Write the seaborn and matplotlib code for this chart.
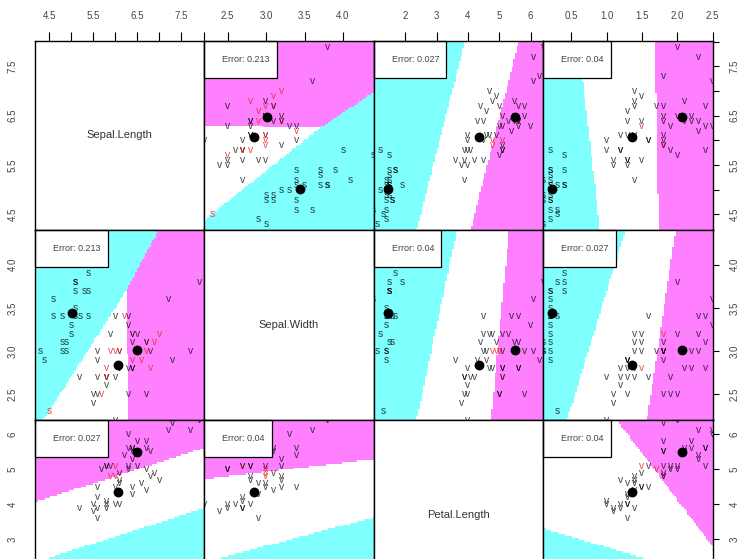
import numpy as np
import matplotlib
matplotlib.use('Agg')
import matplotlib.pyplot as plt
import seaborn as sns
from matplotlib.colors import ListedColormap
from matplotlib.patches import Rectangle

# =========================
# DATA (75 iris rows: 25 setosa, 25 versicolor, 25 virginica)
# =========================
species_names = ['setosa', 'versicolor', 'virginica']
species_count = [25, 25, 25]

sepal_length = [5.1, 4.9, 5.4, 4.6, 4.4, 4.9, 5.4, 4.8, 4.8, 4.3, 5.8, 5.7, 5.1, 5.4, 5.1, 4.6, 5.2, 4.8, 5.2, 5.0, 5.1, 4.5, 5.1, 5.3, 5.0,
                7.0, 6.4, 6.9, 6.6, 5.2, 6.0, 5.6, 6.7, 5.6, 5.8, 5.6, 5.9, 6.1, 6.1, 6.4, 6.8, 6.7, 5.5, 5.8, 6.0, 6.0, 5.5, 6.1, 5.8, 5.6,
                6.3, 5.8, 6.5, 7.3, 6.7, 7.2, 6.5, 6.8, 5.7, 5.8, 6.4, 6.5, 6.1, 6.4, 7.9, 6.4, 6.3, 7.7, 6.3, 6.4, 6.0, 6.7, 6.3, 6.2, 5.9]
sepal_width = [3.5, 3.0, 3.9, 3.4, 2.9, 3.1, 3.7, 3.4, 3.0, 3.0, 4.0, 4.4, 3.8, 3.4, 3.7, 3.6, 3.4, 3.1, 4.1, 3.2, 3.4, 2.3, 3.8, 3.7, 3.3,
               3.2, 3.2, 3.1, 2.9, 2.7, 2.2, 2.9, 3.1, 3.0, 2.7, 2.5, 3.2, 2.8, 2.8, 2.9, 2.8, 3.0, 2.4, 2.7, 2.7, 3.4, 2.5, 3.0, 2.6, 2.7,
               3.3, 2.7, 3.0, 2.9, 2.5, 3.6, 3.2, 3.0, 2.5, 2.8, 3.2, 3.0, 3.0, 2.8, 3.8, 2.8, 2.8, 3.0, 3.4, 3.1, 3.0, 3.1, 2.5, 3.4, 3.0]
petal_length = [1.4, 1.4, 1.7, 1.4, 1.4, 1.5, 1.5, 1.6, 1.4, 1.1, 1.2, 1.5, 1.5, 1.7, 1.5, 1.0, 1.4, 1.6, 1.5, 1.2, 1.5, 1.3, 1.9, 1.5, 1.4,
                4.7, 4.5, 4.9, 4.6, 3.9, 4.0, 3.6, 4.4, 4.5, 4.1, 3.9, 4.8, 4.0, 4.7, 4.3, 4.8, 5.0, 3.8, 3.9, 5.1, 4.5, 4.0, 4.6, 4.0, 4.2,
                6.0, 5.1, 5.8, 6.3, 5.8, 6.1, 5.1, 5.5, 5.0, 5.1, 5.3, 5.5, 4.9, 5.6, 6.4, 5.6, 5.1, 6.1, 5.6, 5.5, 4.8, 5.6, 5.0, 5.4, 5.1]
petal_width = [0.2, 0.2, 0.4, 0.3, 0.2, 0.1, 0.2, 0.2, 0.1, 0.1, 0.2, 0.4, 0.3, 0.2, 0.4, 0.2, 0.2, 0.2, 0.1, 0.2, 0.2, 0.3, 0.4, 0.2, 0.2,
               1.4, 1.5, 1.5, 1.3, 1.4, 1.0, 1.3, 1.4, 1.5, 1.0, 1.1, 1.8, 1.3, 1.2, 1.3, 1.4, 1.7, 1.1, 1.2, 1.6, 1.6, 1.3, 1.4, 1.2, 1.3,
               2.5, 1.9, 2.2, 1.8, 1.8, 2.5, 2.0, 2.1, 2.0, 2.4, 2.3, 1.8, 1.8, 2.1, 2.0, 2.2, 1.5, 2.3, 2.4, 1.8, 1.8, 2.4, 1.9, 2.3, 1.8]

var_names = ['Sepal.Length', 'Sepal.Width', 'Petal.Length', 'Petal.Width']

# error rates printed in the boxes (per variable pair)
pair_a = ['Sepal.Length', 'Sepal.Length', 'Sepal.Length', 'Sepal.Width', 'Sepal.Width', 'Petal.Length']
pair_b = ['Sepal.Width', 'Petal.Length', 'Petal.Width', 'Petal.Length', 'Petal.Width', 'Petal.Width']
pair_err = ['0.213', '0.027', '0.04', '0.04', '0.027', '0.04']

# axis ticks / labels per variable
ticks = {
    'Sepal.Length': [4.5, 5.0, 5.5, 6.0, 6.5, 7.0, 7.5, 8.0],
    'Sepal.Width': [2.5, 3.0, 3.5, 4.0],
    'Petal.Length': [2, 3, 4, 5, 6],
    'Petal.Width': [0.5, 1.0, 1.5, 2.0, 2.5],
}
tick_labels = {
    'Sepal.Length': ['4.5', '', '5.5', '', '6.5', '', '7.5', ''],
    'Sepal.Width': ['2.5', '3.0', '3.5', '4.0'],
    'Petal.Length': ['2', '3', '4', '5', '6'],
    'Petal.Width': ['0.5', '1.0', '1.5', '2.0', '2.5'],
}
lims = {
    'Sepal.Length': (4.18, 8.02),
    'Sepal.Width': (2.2, 4.4),
    'Petal.Length': (1.0, 6.4),
    'Petal.Width': (0.1, 2.5),
}

# =========================
# LDA (like MASS::lda inside klaR::partimat)
# =========================
data = np.column_stack([sepal_length, sepal_width, petal_length, petal_width])
groups = np.repeat(np.arange(3), species_count)
letters = np.array([species_names[g][0] for g in groups])


def lda_fit(X, g):
    means = np.array([X[g == k].mean(axis=0) for k in range(3)])
    resid = np.vstack([X[g == k] - means[k] for k in range(3)])
    cov = resid.T @ resid / (len(X) - 3)
    inv = np.linalg.inv(cov)
    logp = np.log(np.array([(g == k).mean() for k in range(3)]))
    return means, inv, logp


def lda_predict(model, X):
    means, inv, logp = model
    sc = X @ inv @ means.T - 0.5 * np.sum((means @ inv) * means, axis=1) + logp
    return sc.argmax(axis=1)


# =========================
# PLOT
# =========================
sns.set_theme(style='white')
plt.rcParams['font.family'] = ['Liberation Sans', 'DejaVu Sans']

W, H = 742, 559
left0, top0, pw, ph = 35.0, 40.7, 169.4, 189.6
region_cmap = ListedColormap(['#80FFFF', '#FFFFFF', '#FF80FF'])
prec = 100

fig = plt.figure(figsize=(W / 100, H / 100), dpi=100)
renderer = fig.canvas.get_renderer()

for i in range(3):          # the 4th row (Petal.Width) is outside the crop
    for j in range(4):
        ax = fig.add_axes([(left0 + j * pw) / W, 1 - (top0 + (i + 1) * ph) / H, pw / W, ph / H])
        xv, yv = var_names[j], var_names[i]
        ax.set_xlim(lims[xv])
        ax.set_ylim(lims[yv])
        ax.set_facecolor('white')

        if i == j:
            ax.text(0.5, 0.5, xv, transform=ax.transAxes, ha='center', va='center',
                    fontsize=8, color='#333333')
        else:
            X = data[:, [j, i]]
            model = lda_fit(X, groups)
            pred = lda_predict(model, X)

            xg = np.linspace(*lims[xv], prec)
            yg = np.linspace(*lims[yv], prec)
            gx, gy = np.meshgrid(xg, yg)
            Z = lda_predict(model, np.column_stack([gx.ravel(), gy.ravel()])).reshape(gx.shape)
            ax.imshow(Z, extent=(*lims[xv], *lims[yv]), origin='lower', aspect='auto',
                      cmap=region_cmap, vmin=0, vmax=2, interpolation='nearest', zorder=0)

            for k in range(len(X)):
                ok = pred[k] == groups[k]
                ax.text(X[k, 0], X[k, 1], letters[k], ha='center', va='center', fontsize=7.5,
                        color='black' if ok else '#EE2222', alpha=0.72 if ok else 0.8,
                        clip_on=True, zorder=3)

            means = model[0]
            sns.scatterplot(x=means[:, 0], y=means[:, 1], ax=ax, color='black', s=50,
                            linewidth=0, legend=False, zorder=4)

            # error box in the top-left corner
            for a, b, e in zip(pair_a, pair_b, pair_err):
                if {a, b} == {xv, yv}:
                    err = e
            t = ax.text(18 / pw, 1 - 18.5 / ph, 'Error: ' + err, transform=ax.transAxes,
                        ha='left', va='center', fontsize=6.5, color='#444444', zorder=6)
            tw = t.get_window_extent(renderer).width
            bw, bh = 18 + tw + 7, 37
            ax.add_patch(Rectangle((0, 1 - bh / ph), bw / pw, bh / ph, transform=ax.transAxes,
                                   facecolor='white', edgecolor='black', lw=0.9, zorder=5,
                                   clip_on=False))

        ax.set_xlabel('')
        ax.set_ylabel('')
        for s in ax.spines.values():
            s.set_visible(True)
            s.set_color('black')
            s.set_linewidth(1.0)
            s.set_zorder(7)

        # outer axes only
        if i == 0:
            ax.xaxis.set_ticks_position('top')
            ax.set_xticks(ticks[xv])
            ax.set_xticklabels(tick_labels[xv])
            ax.tick_params(axis='x', direction='out', length=6.5, width=0.8, pad=7.5,
                           labelsize=7, color='black', labelcolor='#444444',
                           top=True, labeltop=True, bottom=False, labelbottom=False)
        else:
            ax.set_xticks([])
        if j == 0 or j == 3:
            if j == 3:
                ax.yaxis.tick_right()
            ax.set_yticks(ticks[yv])
            ax.set_yticklabels(tick_labels[yv])
            ax.tick_params(axis='y', direction='out', length=4.5, width=0.8, pad=8,
                           labelsize=7, color='black', labelcolor='#444444', labelrotation=90)
            for lab in ax.get_yticklabels():
                lab.set_va('center')
        else:
            ax.set_yticks([])
        ax.set_xlim(lims[xv])
        ax.set_ylim(lims[yv])

fig.savefig('out.png', dpi=100)
